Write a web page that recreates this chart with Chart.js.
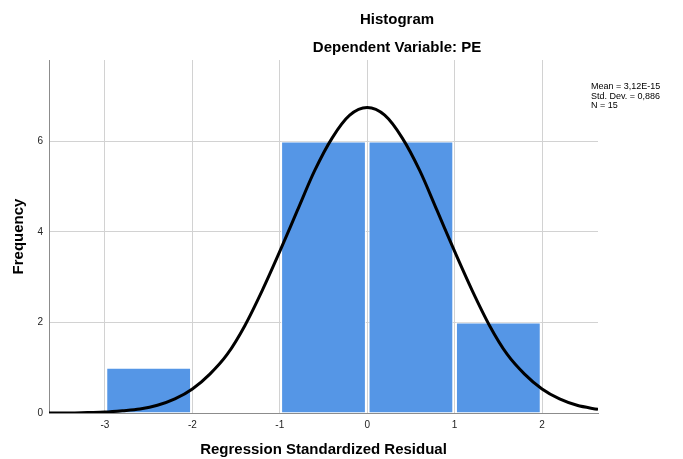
<!DOCTYPE html>
<html>
<head>
<meta charset="utf-8">
<script src="https://cdn.jsdelivr.net/npm/chart.js@4.4.1/dist/chart.umd.min.js"></script>
<style>
  html, body { margin: 0; padding: 0; background: #ffffff; }
  #wrap { position: relative; width: 683px; height: 459px; }
</style>
</head>
<body>
<div id="wrap"><canvas id="c" width="683" height="459"></canvas></div>
<script>
// ---- data ----
const binCenters = [-2.5, -1.5, -0.5, 0.5, 1.5];
const binCounts  = [1, 0, 6, 6, 2];

const curveX = [-3.64, -3.4, -3.2, -3.0, -2.8, -2.6, -2.4, -2.2, -2.0, -1.8, -1.6, -1.4, -1.2, -1.0, -0.8, -0.6, -0.4, -0.2, 0.0, 0.2, 0.4, 0.6, 0.8, 1.0, 1.2, 1.4, 1.6, 1.8, 2.0, 2.2, 2.4, 2.64];
const curveY = [0.00, 0.00, 0.01, 0.02, 0.05, 0.09, 0.17, 0.31, 0.53, 0.86, 1.30, 1.93, 2.71, 3.57, 4.47, 5.36, 6.08, 6.58, 6.75, 6.58, 6.08, 5.36, 4.47, 3.57, 2.71, 1.93, 1.30, 0.86, 0.53, 0.31, 0.17, 0.08];

const xTicks = [-3, -2, -1, 0, 1, 2];
const yTicks = [0, 2, 4, 6];

const titleText = "Histogram";
const subtitleText = "Dependent Variable: PE";
const xTitle = "Regression Standardized Residual";
const yTitle = "Frequency";
const statsLines = ["Mean = 3,12E-15", "Std. Dev. = 0,886", "N = 15"];

// ---- chart ----
const FONT = "'Liberation Sans', Arial, sans-serif";

const textPlugin = {
  id: 'textPlugin',
  afterDraw(chart) {
    const ctx = chart.ctx;
    ctx.save();
    ctx.fillStyle = '#000';
    ctx.textAlign = 'center';
    ctx.textBaseline = 'middle';
    ctx.font = 'bold 15px ' + FONT;
    ctx.fillText(titleText, 397, 20);
    ctx.fillText(subtitleText, 397, 48);
    ctx.textAlign = 'left';
    ctx.font = '9px ' + FONT;
    statsLines.forEach((s, i) => ctx.fillText(s, 591, 87 + i * 9.5));
    ctx.restore();
  }
};

new Chart(document.getElementById('c'), {
  data: {
    datasets: [
      {
        type: 'line',
        data: curveX.map((x, i) => ({ x: x, y: curveY[i] })),
        borderColor: '#000000',
        borderWidth: 3,
        pointRadius: 0,
        tension: 0.4,
        cubicInterpolationMode: 'monotone',
        fill: false,
        order: 0
      },
      {
        type: 'bar',
        data: binCenters.map((x, i) => ({ x: x, y: binCounts[i] })),
        backgroundColor: '#5596E6',
        borderColor: '#ffffff',
        borderWidth: 1,
        barPercentage: 0.97,
        categoryPercentage: 1,
        order: 1
      }
    ]
  },
  options: {
    responsive: false,
    animation: false,
    layout: { padding: { top: 60, right: 85, left: 0, bottom: 0 } },
    plugins: { legend: { display: false }, tooltip: { enabled: false } },
    scales: {
      x: {
        type: 'linear',
        min: -3.64,
        max: 2.64,
        offset: false,
        afterBuildTicks: s => { s.ticks = xTicks.map(v => ({ value: v })); },
        afterFit: s => { s.height = 46; },
        grid: { offset: false, color: '#d2d2d2', lineWidth: 1, drawTicks: false },
        border: { color: '#8c8c8c', width: 1 },
        ticks: { color: '#222', font: { size: 10, family: FONT }, padding: 6, maxRotation: 0, callback: v => String(v) },
        title: { display: true, text: xTitle, color: '#000', font: { size: 15, weight: 'bold', family: FONT }, padding: { top: 0, bottom: 0 } }
      },
      y: {
        type: 'linear',
        min: 0,
        max: 7.8,
        afterBuildTicks: s => { s.ticks = yTicks.map(v => ({ value: v })); },
        afterFit: s => { s.width = 49; },
        grid: { color: '#d2d2d2', lineWidth: 1, drawTicks: false },
        border: { color: '#8c8c8c', width: 1 },
        ticks: { color: '#222', font: { size: 10, family: FONT }, padding: 6, callback: v => String(v) },
        title: { display: true, text: yTitle, color: '#000', font: { size: 15, weight: 'bold', family: FONT }, padding: { top: 10, bottom: 0 } }
      }
    }
  },
  plugins: [textPlugin]
});
</script>
</body>
</html>
